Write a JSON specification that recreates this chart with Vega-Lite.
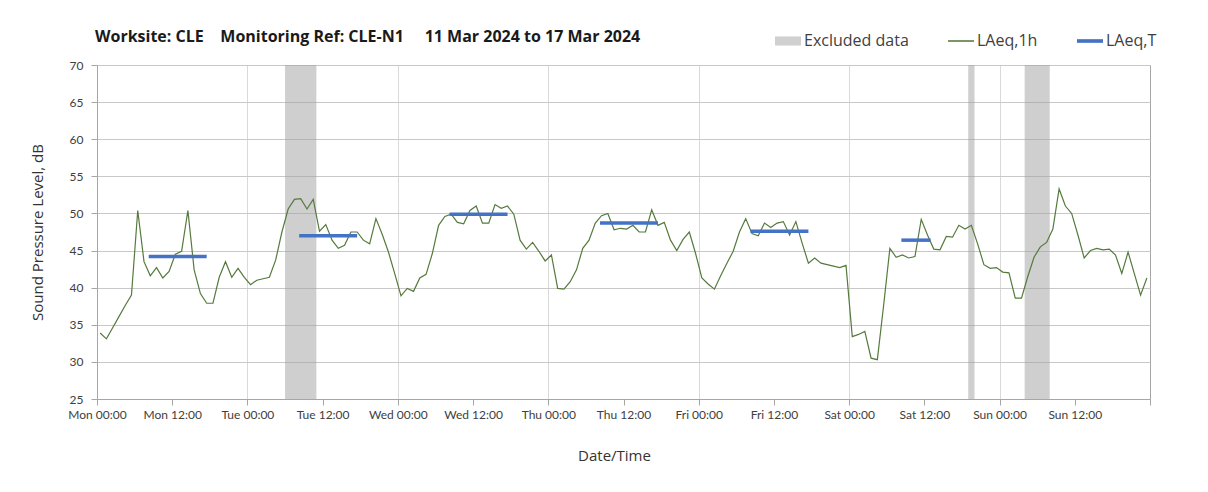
{
  "$schema": "https://vega.github.io/schema/vega-lite/v6.json",
  "width": 1053,
  "height": 334,
  "autosize": {"type": "none"},
  "padding": {"left": 97, "top": 65, "right": 58, "bottom": 93},
  "background": "white",
  "config": {
    "font": "Lato",
    "view": {"stroke": "#a6a6a6", "strokeWidth": 1},
    "axis": {
      "labelFont": "Lato",
      "labelFontSize": 12,
      "labelColor": "#404040",
      "titleFont": "Open Sans",
      "titleFontSize": 15,
      "titleFontWeight": "normal",
      "titleColor": "#333333",
      "domainColor": "#a6a6a6",
      "tickColor": "#a6a6a6",
      "tickSize": 6
    }
  },
  "title": {
    "text": "Worksite: CLE\u00a0\u00a0\u00a0 Monitoring Ref: CLE-N1\u00a0\u00a0\u00a0\u00a0 11 Mar 2024 to 17 Mar 2024",
    "anchor": "start",
    "frame": "group",
    "offset": 18,
    "dx": -2,
    "dy": 35,
    "font": "Open Sans",
    "fontSize": 16,
    "fontWeight": "bold",
    "color": "#1a1a1a"
  },
  "datasets": {
    "legend": [
      {"series": "Excluded data"},
      {"series": "LAeq,1h"},
      {"series": "LAeq,T"}
    ],
    "excluded": [
      {"start": "2024-03-12T06:00", "end": "2024-03-12T11:00"},
      {"start": "2024-03-16T19:00", "end": "2024-03-16T20:00"},
      {"start": "2024-03-17T04:00", "end": "2024-03-17T08:00"}
    ],
    "period": [
      {"start": "2024-03-11T08:15", "end": "2024-03-11T17:30", "v": 44.2},
      {"start": "2024-03-12T08:15", "end": "2024-03-12T17:30", "v": 47.0},
      {"start": "2024-03-13T08:15", "end": "2024-03-13T17:30", "v": 49.9},
      {"start": "2024-03-14T08:15", "end": "2024-03-14T17:30", "v": 48.7},
      {"start": "2024-03-15T08:15", "end": "2024-03-15T17:30", "v": 47.6},
      {"start": "2024-03-16T08:20", "end": "2024-03-16T13:00", "v": 46.4}
    ],
    "hourly": [
      {"t": "2024-03-11T00:30", "v": 33.9}, {"t": "2024-03-11T01:30", "v": 33.1}, {"t": "2024-03-11T02:30", "v": 34.6}, {"t": "2024-03-11T03:30", "v": 36.1},
      {"t": "2024-03-11T04:30", "v": 37.6}, {"t": "2024-03-11T05:30", "v": 39.0}, {"t": "2024-03-11T06:30", "v": 50.4}, {"t": "2024-03-11T07:30", "v": 43.5},
      {"t": "2024-03-11T08:30", "v": 41.6}, {"t": "2024-03-11T09:30", "v": 42.7}, {"t": "2024-03-11T10:30", "v": 41.3}, {"t": "2024-03-11T11:30", "v": 42.2},
      {"t": "2024-03-11T12:30", "v": 44.5}, {"t": "2024-03-11T13:30", "v": 44.9}, {"t": "2024-03-11T14:30", "v": 50.4}, {"t": "2024-03-11T15:30", "v": 42.4},
      {"t": "2024-03-11T16:30", "v": 39.2}, {"t": "2024-03-11T17:30", "v": 37.9}, {"t": "2024-03-11T18:30", "v": 37.9}, {"t": "2024-03-11T19:30", "v": 41.4},
      {"t": "2024-03-11T20:30", "v": 43.5}, {"t": "2024-03-11T21:30", "v": 41.4}, {"t": "2024-03-11T22:30", "v": 42.6}, {"t": "2024-03-11T23:30", "v": 41.4},
      {"t": "2024-03-12T00:30", "v": 40.4}, {"t": "2024-03-12T01:30", "v": 41.0}, {"t": "2024-03-12T02:30", "v": 41.2}, {"t": "2024-03-12T03:30", "v": 41.4},
      {"t": "2024-03-12T04:30", "v": 43.7}, {"t": "2024-03-12T05:30", "v": 47.5}, {"t": "2024-03-12T06:30", "v": 50.6}, {"t": "2024-03-12T07:30", "v": 51.9},
      {"t": "2024-03-12T08:30", "v": 52.0}, {"t": "2024-03-12T09:30", "v": 50.6}, {"t": "2024-03-12T10:30", "v": 51.9}, {"t": "2024-03-12T11:30", "v": 47.6},
      {"t": "2024-03-12T12:30", "v": 48.5}, {"t": "2024-03-12T13:30", "v": 46.4}, {"t": "2024-03-12T14:30", "v": 45.3}, {"t": "2024-03-12T15:30", "v": 45.7},
      {"t": "2024-03-12T16:30", "v": 47.5}, {"t": "2024-03-12T17:30", "v": 47.5}, {"t": "2024-03-12T18:30", "v": 46.4}, {"t": "2024-03-12T19:30", "v": 45.9},
      {"t": "2024-03-12T20:30", "v": 49.3}, {"t": "2024-03-12T21:30", "v": 47.2}, {"t": "2024-03-12T22:30", "v": 44.8}, {"t": "2024-03-12T23:30", "v": 41.9},
      {"t": "2024-03-13T00:30", "v": 38.9}, {"t": "2024-03-13T01:30", "v": 39.9}, {"t": "2024-03-13T02:30", "v": 39.5}, {"t": "2024-03-13T03:30", "v": 41.3},
      {"t": "2024-03-13T04:30", "v": 41.8}, {"t": "2024-03-13T05:30", "v": 44.6}, {"t": "2024-03-13T06:30", "v": 48.4}, {"t": "2024-03-13T07:30", "v": 49.6},
      {"t": "2024-03-13T08:30", "v": 49.9}, {"t": "2024-03-13T09:30", "v": 48.8}, {"t": "2024-03-13T10:30", "v": 48.6}, {"t": "2024-03-13T11:30", "v": 50.4},
      {"t": "2024-03-13T12:30", "v": 51.0}, {"t": "2024-03-13T13:30", "v": 48.7}, {"t": "2024-03-13T14:30", "v": 48.7}, {"t": "2024-03-13T15:30", "v": 51.2},
      {"t": "2024-03-13T16:30", "v": 50.7}, {"t": "2024-03-13T17:30", "v": 51.0}, {"t": "2024-03-13T18:30", "v": 49.9}, {"t": "2024-03-13T19:30", "v": 46.4},
      {"t": "2024-03-13T20:30", "v": 45.2}, {"t": "2024-03-13T21:30", "v": 46.1}, {"t": "2024-03-13T22:30", "v": 44.9}, {"t": "2024-03-13T23:30", "v": 43.6},
      {"t": "2024-03-14T00:30", "v": 44.4}, {"t": "2024-03-14T01:30", "v": 39.9}, {"t": "2024-03-14T02:30", "v": 39.8}, {"t": "2024-03-14T03:30", "v": 40.8},
      {"t": "2024-03-14T04:30", "v": 42.4}, {"t": "2024-03-14T05:30", "v": 45.3}, {"t": "2024-03-14T06:30", "v": 46.4}, {"t": "2024-03-14T07:30", "v": 48.7},
      {"t": "2024-03-14T08:30", "v": 49.7}, {"t": "2024-03-14T09:30", "v": 50.0}, {"t": "2024-03-14T10:30", "v": 47.8}, {"t": "2024-03-14T11:30", "v": 48.0},
      {"t": "2024-03-14T12:30", "v": 47.9}, {"t": "2024-03-14T13:30", "v": 48.4}, {"t": "2024-03-14T14:30", "v": 47.5}, {"t": "2024-03-14T15:30", "v": 47.5},
      {"t": "2024-03-14T16:30", "v": 50.5}, {"t": "2024-03-14T17:30", "v": 48.4}, {"t": "2024-03-14T18:30", "v": 48.8}, {"t": "2024-03-14T19:30", "v": 46.4},
      {"t": "2024-03-14T20:30", "v": 45.0}, {"t": "2024-03-14T21:30", "v": 46.5}, {"t": "2024-03-14T22:30", "v": 47.5}, {"t": "2024-03-14T23:30", "v": 44.6},
      {"t": "2024-03-15T00:30", "v": 41.3}, {"t": "2024-03-15T01:30", "v": 40.5}, {"t": "2024-03-15T02:30", "v": 39.8}, {"t": "2024-03-15T03:30", "v": 41.6},
      {"t": "2024-03-15T04:30", "v": 43.3}, {"t": "2024-03-15T05:30", "v": 44.9}, {"t": "2024-03-15T06:30", "v": 47.5}, {"t": "2024-03-15T07:30", "v": 49.3},
      {"t": "2024-03-15T08:30", "v": 47.3}, {"t": "2024-03-15T09:30", "v": 47.0}, {"t": "2024-03-15T10:30", "v": 48.7}, {"t": "2024-03-15T11:30", "v": 48.1},
      {"t": "2024-03-15T12:30", "v": 48.7}, {"t": "2024-03-15T13:30", "v": 48.9}, {"t": "2024-03-15T14:30", "v": 47.1}, {"t": "2024-03-15T15:30", "v": 48.9},
      {"t": "2024-03-15T16:30", "v": 46.0}, {"t": "2024-03-15T17:30", "v": 43.3}, {"t": "2024-03-15T18:30", "v": 44.0}, {"t": "2024-03-15T19:30", "v": 43.3},
      {"t": "2024-03-15T20:30", "v": 43.1}, {"t": "2024-03-15T21:30", "v": 42.9}, {"t": "2024-03-15T22:30", "v": 42.7}, {"t": "2024-03-15T23:30", "v": 43.0},
      {"t": "2024-03-16T00:30", "v": 33.4}, {"t": "2024-03-16T01:30", "v": 33.7}, {"t": "2024-03-16T02:30", "v": 34.1}, {"t": "2024-03-16T03:30", "v": 30.5},
      {"t": "2024-03-16T04:30", "v": 30.3}, {"t": "2024-03-16T05:30", "v": 37.6}, {"t": "2024-03-16T06:30", "v": 45.3}, {"t": "2024-03-16T07:30", "v": 44.1},
      {"t": "2024-03-16T08:30", "v": 44.4}, {"t": "2024-03-16T09:30", "v": 44.0}, {"t": "2024-03-16T10:30", "v": 44.2}, {"t": "2024-03-16T11:30", "v": 49.2},
      {"t": "2024-03-16T12:30", "v": 47.1}, {"t": "2024-03-16T13:30", "v": 45.2}, {"t": "2024-03-16T14:30", "v": 45.1}, {"t": "2024-03-16T15:30", "v": 46.9},
      {"t": "2024-03-16T16:30", "v": 46.8}, {"t": "2024-03-16T17:30", "v": 48.4}, {"t": "2024-03-16T18:30", "v": 47.9}, {"t": "2024-03-16T19:30", "v": 48.4},
      {"t": "2024-03-16T20:30", "v": 45.9}, {"t": "2024-03-16T21:30", "v": 43.1}, {"t": "2024-03-16T22:30", "v": 42.6}, {"t": "2024-03-16T23:30", "v": 42.7},
      {"t": "2024-03-17T00:30", "v": 42.1}, {"t": "2024-03-17T01:30", "v": 42.0}, {"t": "2024-03-17T02:30", "v": 38.6}, {"t": "2024-03-17T03:30", "v": 38.6},
      {"t": "2024-03-17T04:30", "v": 41.5}, {"t": "2024-03-17T05:30", "v": 44.1}, {"t": "2024-03-17T06:30", "v": 45.5}, {"t": "2024-03-17T07:30", "v": 46.1},
      {"t": "2024-03-17T08:30", "v": 47.9}, {"t": "2024-03-17T09:30", "v": 53.3}, {"t": "2024-03-17T10:30", "v": 51.0}, {"t": "2024-03-17T11:30", "v": 50.0},
      {"t": "2024-03-17T12:30", "v": 47.1}, {"t": "2024-03-17T13:30", "v": 44.0}, {"t": "2024-03-17T14:30", "v": 45.0}, {"t": "2024-03-17T15:30", "v": 45.3},
      {"t": "2024-03-17T16:30", "v": 45.1}, {"t": "2024-03-17T17:30", "v": 45.2}, {"t": "2024-03-17T18:30", "v": 44.4}, {"t": "2024-03-17T19:30", "v": 41.9},
      {"t": "2024-03-17T20:30", "v": 44.8}, {"t": "2024-03-17T21:30", "v": 41.9}, {"t": "2024-03-17T22:30", "v": 39.0}, {"t": "2024-03-17T23:30", "v": 41.3}
    ]
  },
  "layer": [
    {
      "data": {"name": "excluded"},
      "mark": {"type": "rect", "color": "#a0a0a0", "opacity": 0.5},
      "encoding": {
        "x": {
          "field": "start",
          "type": "temporal",
          "scale": {
            "domain": [
              {"year": 2024, "month": "mar", "date": 11, "hours": 0},
              {"year": 2024, "month": "mar", "date": 18, "hours": 0}
            ]
          },
          "axis": {
            "title": "Date/Time",
            "values": [
              {"year": 2024, "month": "mar", "date": 11, "hours": 0},
              {"year": 2024, "month": "mar", "date": 11, "hours": 12},
              {"year": 2024, "month": "mar", "date": 12, "hours": 0},
              {"year": 2024, "month": "mar", "date": 12, "hours": 12},
              {"year": 2024, "month": "mar", "date": 13, "hours": 0},
              {"year": 2024, "month": "mar", "date": 13, "hours": 12},
              {"year": 2024, "month": "mar", "date": 14, "hours": 0},
              {"year": 2024, "month": "mar", "date": 14, "hours": 12},
              {"year": 2024, "month": "mar", "date": 15, "hours": 0},
              {"year": 2024, "month": "mar", "date": 15, "hours": 12},
              {"year": 2024, "month": "mar", "date": 16, "hours": 0},
              {"year": 2024, "month": "mar", "date": 16, "hours": 12},
              {"year": 2024, "month": "mar", "date": 17, "hours": 0},
              {"year": 2024, "month": "mar", "date": 17, "hours": 12},
              {"year": 2024, "month": "mar", "date": 18, "hours": 0}
            ],
            "tickCount": 15,
            "labelExpr": "datum.value >= datetime(2024, 2, 18) ? '' : timeFormat(datum.value, '%a %H:%M')",
            "labelOverlap": false,
            "labelFlush": false,
            "labelPadding": 4,
            "titlePadding": 28,
            "titleX": 517,
            "grid": true,
            "gridColor": "#d9d9d9",
            "gridOpacity": {"condition": {"test": "hours(datum.value) === 0 && datum.value < datetime(2024, 2, 18)", "value": 1}, "value": 0}
          }
        },
        "x2": {"field": "end"}
      }
    },
    {
      "data": {"name": "hourly"},
      "mark": {"type": "line", "strokeWidth": 1.2, "color": "#557a3c"},
      "encoding": {
        "x": {"field": "t", "type": "temporal"},
        "y": {
          "field": "v",
          "type": "quantitative",
          "scale": {"domain": [25, 70], "nice": false, "zero": false},
          "axis": {
            "title": "Sound Pressure Level, dB",
            "values": [25, 30, 35, 40, 45, 50, 55, 60, 65, 70],
            "tickCount": 10,
            "labelOverlap": false,
            "labelPadding": 8,
            "titlePadding": 24,
            "gridColor": "#c8c8c8"
          }
        }
      }
    },
    {
      "data": {"name": "period"},
      "mark": {"type": "rule", "strokeWidth": 3.5, "color": "#4472c4"},
      "encoding": {
        "x": {"field": "start", "type": "temporal"},
        "x2": {"field": "end"},
        "y": {"field": "v", "type": "quantitative"}
      }
    },
    {
      "data": {"name": "legend"},
      "mark": {"type": "point", "filled": true, "opacity": 0},
      "encoding": {
        "color": {
          "field": "series",
          "type": "nominal",
          "scale": {
            "domain": ["Excluded data", "LAeq,1h", "LAeq,T"],
            "range": ["#d0d0d0", "#557a3c", "#4472c4"]
          },
          "legend": {
            "orient": "none",
            "legendX": 678,
            "legendY": -37,
            "direction": "horizontal",
            "title": null,
            "columnPadding": 39,
            "labelFont": "Open Sans",
            "labelFontSize": 16,
            "labelColor": "#404040",
            "labelOffset": 3,
            "symbolSize": 676,
            "symbolOpacity": 1,
            "symbolStrokeWidth": 0
          }
        },
        "shape": {
          "field": "series",
          "type": "nominal",
          "scale": {
            "domain": ["Excluded data", "LAeq,1h", "LAeq,T"],
            "range": ["M-1,-0.35H1V0.35H-1Z", "M-1,-0.06H1V0.06H-1Z", "M-1,-0.14H1V0.14H-1Z"]
          },
          "legend": {
            "orient": "none",
            "legendX": 678,
            "legendY": -37,
            "direction": "horizontal",
            "title": null,
            "columnPadding": 39,
            "labelFont": "Open Sans",
            "labelFontSize": 16,
            "labelColor": "#404040",
            "labelOffset": 3,
            "symbolSize": 676,
            "symbolOpacity": 1,
            "symbolStrokeWidth": 0
          }
        }
      }
    }
  ]
}
